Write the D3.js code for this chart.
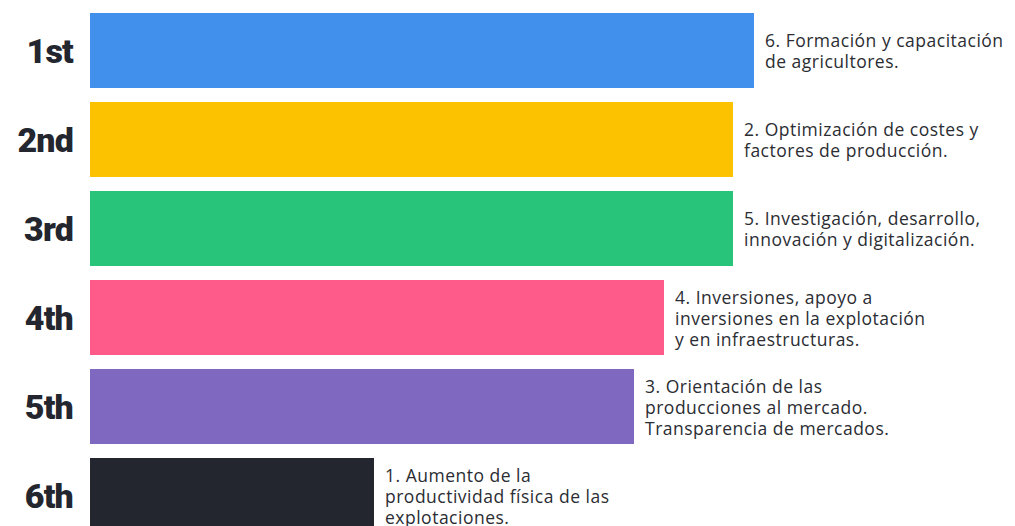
<!DOCTYPE html>
<html><head><meta charset="utf-8">
<script src="https://cdn.jsdelivr.net/npm/d3@7"></script>
<style>body{margin:0;background:#fff;}svg{display:block;}</style>
</head><body>
<script>
const ranks = ["1st","2nd","3rd","4th","5th","6th"];
const values = [664, 643, 643, 574, 544, 284];
const labels = [
  ["6. Formación y capacitación","de agricultores."],
  ["2. Optimización de costes y","factores de producción."],
  ["5. Investigación, desarrollo,","innovación y digitalización."],
  ["4. Inversiones, apoyo a","inversiones en la explotación","y en infraestructuras."],
  ["3. Orientación de las","producciones al mercado.","Transparencia de mercados."],
  ["1. Aumento de la","productividad física de las","explotaciones."]
];
const colors = ["#4190EC","#FCC200","#27C47A","#FE5B8A","#7E68C0","#23262E"];

const W = 1015, H = 526;
const svg = d3.select("body").append("svg").attr("width", W).attr("height", H);
const x = d3.scaleLinear().domain([0, 664]).range([90, 754]);
const y = d3.scaleBand().domain(ranks).range([13, 533]).paddingInner(14/89).paddingOuter(0);

svg.selectAll("rect.bar").data(ranks).enter().append("rect")
  .attr("x", x(0)).attr("y", d => y(d))
  .attr("width", (d,i) => x(values[i]) - x(0))
  .attr("height", y.bandwidth())
  .attr("fill", (d,i) => colors[i]);

svg.selectAll("text.rank").data(ranks).enter().append("text")
  .attr("x", 73).attr("y", d => y(d) + y.bandwidth()/2)
  .attr("text-anchor","end").attr("dominant-baseline","central")
  .attr("font-family","Roboto, sans-serif").attr("font-weight",900)
  .attr("font-size", 34).attr("letter-spacing", -0.8).attr("fill","#23262E")
  .text(d => d);

const lh = 21;
ranks.forEach((r,i) => {
  const lines = labels[i];
  const cy = y(r) + y.bandwidth()/2;
  const t = svg.append("text")
    .attr("font-family","'Open Sans', sans-serif").attr("font-size", 17.5)
    .attr("letter-spacing", 0.5)
    .attr("fill","#2B2D33").attr("font-weight",500);
  lines.forEach((l,j) => {
    t.append("tspan").attr("x", x(values[i]) + 11)
      .attr("y", cy + (j - (lines.length-1)/2) * lh)
      .attr("dominant-baseline","central").text(l);
  });
});
</script>
</body></html>
